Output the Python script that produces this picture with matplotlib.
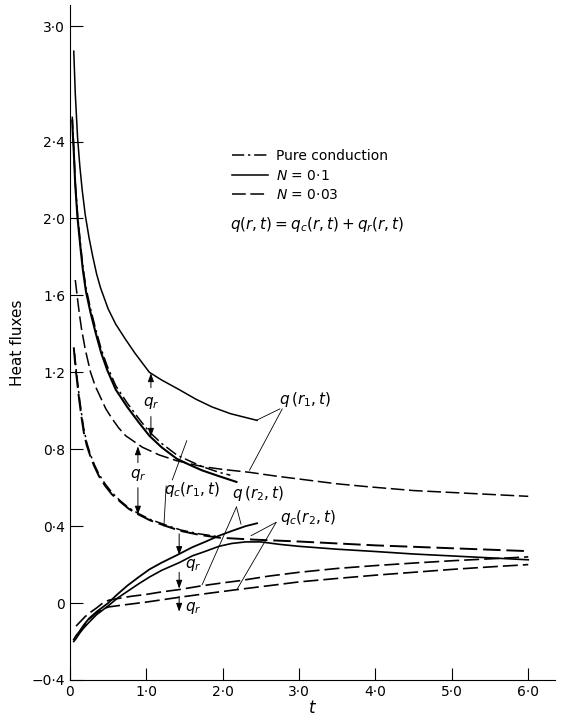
import numpy as np
import matplotlib
matplotlib.use("Agg")
import matplotlib.pyplot as plt
from matplotlib.lines import Line2D

plt.rcParams['font.family'] = ['DejaVu Sans']
plt.rcParams['mathtext.fontset'] = 'dejavusans'

# ---- data ----
# r1, N = 0.1 : total flux q(r1,t)
t_q1_n1 = [0.05, 0.07, 0.1, 0.13, 0.16, 0.2, 0.25, 0.3, 0.35, 0.4, 0.5, 0.6, 0.73,
           0.85, 1.04, 1.2, 1.43, 1.65, 1.86, 2.1, 2.45]
q_q1_n1 = [2.87, 2.65, 2.42, 2.27, 2.15, 2.02, 1.9, 1.8, 1.71, 1.64, 1.53, 1.45, 1.37,
           1.3, 1.2, 1.16, 1.11, 1.06, 1.02, 0.985, 0.95]

# r1, N = 0.1 : conductive flux qc(r1,t)
t_qc1_n1 = [0.03, 0.04, 0.05, 0.07, 0.1, 0.14, 0.17, 0.21, 0.27, 0.34, 0.41, 0.49,
            0.6, 0.75, 0.9, 1.04, 1.2, 1.4, 1.56, 1.73, 1.95, 2.18]
q_qc1_n1 = [2.51, 2.42, 2.35, 2.17, 2.0, 1.84, 1.73, 1.62, 1.51, 1.40, 1.30, 1.21,
            1.11, 1.02, 0.94, 0.87, 0.81, 0.75, 0.72, 0.69, 0.66, 0.63]

# r1, pure conduction
t_pc1 = [0.03, 0.05, 0.07, 0.1, 0.14, 0.17, 0.21, 0.27, 0.34, 0.41, 0.49, 0.6,
         0.75, 0.9, 1.04, 1.2, 1.4, 1.56, 1.73, 1.95, 2.1]
q_pc1 = [2.53, 2.37, 2.19, 2.02, 1.86, 1.75, 1.64, 1.53, 1.42, 1.32, 1.23, 1.13,
         1.04, 0.96, 0.89, 0.83, 0.77, 0.74, 0.71, 0.68, 0.665]

# r1, N = 0.03 : total flux q(r1,t)
t_q1_n3 = [0.07, 0.085, 0.1, 0.125, 0.15, 0.2, 0.27, 0.33, 0.4, 0.47, 0.55, 0.64,
           0.73, 0.84, 0.95, 1.17, 1.4, 1.73, 2.0, 2.35, 2.7, 3.0, 3.5, 3.9, 4.5,
           5.0, 5.5, 6.0]
q_q1_n3 = [1.68, 1.63, 1.58, 1.5, 1.43, 1.32, 1.2, 1.13, 1.07, 1.01, 0.96, 0.91,
           0.87, 0.84, 0.81, 0.77, 0.74, 0.71, 0.695, 0.68, 0.66, 0.645, 0.62, 0.605,
           0.585, 0.575, 0.565, 0.555]

# r1, N = 0.03 : conductive flux qc(r1,t)
t_qc1_n3 = [0.05, 0.065, 0.08, 0.1, 0.12, 0.15, 0.18, 0.22, 0.27, 0.32, 0.38, 0.46,
            0.55, 0.65, 0.77, 0.9, 1.05, 1.26, 1.45, 1.69, 1.95, 2.4, 3.0, 3.5, 4.0,
            5.0, 6.0]
q_qc1_n3 = [1.33, 1.26, 1.2, 1.13, 1.06, 0.97, 0.89, 0.82, 0.76, 0.71, 0.66, 0.61,
            0.565, 0.53, 0.49, 0.46, 0.43, 0.40, 0.375, 0.355, 0.34, 0.33, 0.32,
            0.31, 0.30, 0.285, 0.27]

# r2, pure conduction
t_pc2 = [0.06, 0.08, 0.1, 0.12, 0.15, 0.18, 0.22, 0.27, 0.32, 0.38, 0.46, 0.55,
         0.65, 0.77, 0.9, 1.05, 1.26, 1.45, 1.69, 1.95]
q_pc2 = [1.3, 1.22, 1.15, 1.08, 0.99, 0.91, 0.835, 0.77, 0.72, 0.67, 0.62, 0.575,
         0.535, 0.495, 0.465, 0.435, 0.405, 0.38, 0.36, 0.345]

# r2, N = 0.1 : q(r2,t) and qc(r2,t)
t_q2_n1 = [0.05, 0.08, 0.12, 0.18, 0.25, 0.35, 0.5, 0.62, 0.75, 0.9, 1.04, 1.2,
           1.43, 1.6, 1.78, 1.95, 2.12, 2.3, 2.45]
q_q2_n1 = [-0.19, -0.17, -0.15, -0.115, -0.08, -0.045, 0.0, 0.045, 0.09, 0.135,
           0.175, 0.21, 0.255, 0.29, 0.32, 0.35, 0.375, 0.4, 0.415]
t_qc2_n1 = [0.05, 0.08, 0.12, 0.18, 0.25, 0.35, 0.5, 0.62, 0.75, 0.9, 1.04, 1.2,
            1.43, 1.6, 1.78, 1.95, 2.12, 2.3, 2.5, 2.75, 3.0, 3.5, 4.0, 4.5, 5.0,
            5.5, 6.0]
q_qc2_n1 = [-0.2, -0.185, -0.16, -0.13, -0.1, -0.06, -0.015, 0.025, 0.06, 0.1,
            0.135, 0.17, 0.21, 0.245, 0.27, 0.295, 0.31, 0.318, 0.318, 0.305, 0.295,
            0.28, 0.268, 0.255, 0.245, 0.235, 0.225]

# r2, N = 0.03 : q(r2,t) and qc(r2,t)
t_q2_n3 = [0.08, 0.14, 0.2, 0.28, 0.35, 0.43, 0.51, 0.65, 0.8, 1.0, 1.2, 1.43, 1.73,
           2.0, 2.2, 2.6, 3.0, 3.5, 4.0, 4.5, 5.0, 5.5, 6.0]
q_q2_n3 = [-0.12, -0.095, -0.07, -0.045, -0.025, 0.0, 0.015, 0.025, 0.035, 0.045,
           0.058, 0.07, 0.09, 0.105, 0.115, 0.14, 0.16, 0.18, 0.195, 0.208, 0.22,
           0.23, 0.24]
t_qc2_n3 = [0.1, 0.18, 0.25, 0.35, 0.43, 0.51, 0.7, 1.0, 1.43, 1.8, 2.19, 2.6, 3.0,
            3.5, 4.0, 4.5, 5.0, 5.5, 6.0]
q_qc2_n3 = [-0.17, -0.12, -0.085, -0.05, -0.03, -0.02, -0.01, 0.005, 0.03, 0.05,
            0.07, 0.09, 0.11, 0.128, 0.145, 0.16, 0.175, 0.188, 0.2]

yticks = [-0.4, 0, 0.4, 0.8, 1.2, 1.6, 2.0, 2.4, 3.0]
ytick_labels = ["\u22120\u00b74", "0", "0\u00b74", "0\u00b78", "1\u00b72", "1\u00b76",
                "2\u00b70", "2\u00b74", "3\u00b70"]
xticks = [0, 1, 2, 3, 4, 5, 6]
xtick_labels = ["0", "1\u00b70", "2\u00b70", "3\u00b70", "4\u00b70", "5\u00b70", "6\u00b70"]

# ---- styles ----
LD = (0, (9, 3))              # long dash
DD = (0, (8, 2.5, 1.5, 2.5))  # dash-dot
K = "black"

fig = plt.figure(figsize=(5.64, 7.2), dpi=100)
ax = fig.add_axes([0.124, 0.0556, 0.86, 0.9374])

ax.plot(t_q1_n1, q_q1_n1, color=K, lw=1.1)
ax.plot(t_qc1_n1, q_qc1_n1, color=K, lw=1.5)
ax.plot(t_pc1, q_pc1, color=K, lw=1.1, linestyle=DD)
ax.plot(t_q1_n3, q_q1_n3, color=K, lw=1.1, linestyle=LD)
ax.plot(t_qc1_n3, q_qc1_n3, color=K, lw=1.4, linestyle=LD)
ax.plot(t_pc2, q_pc2, color=K, lw=1.1, linestyle=DD)
ax.plot(t_q2_n1, q_q2_n1, color=K, lw=1.3)
ax.plot(t_qc2_n1, q_qc2_n1, color=K, lw=1.2)
ax.plot(t_q2_n3, q_q2_n3, color=K, lw=1.2, linestyle=LD)
ax.plot(t_qc2_n3, q_qc2_n3, color=K, lw=1.2, linestyle=LD)

ax.set_xlim(0, 6.35)
ax.set_ylim(-0.4, 3.11)
ax.spines['top'].set_visible(False)
ax.spines['right'].set_visible(False)
ax.set_yticks(yticks)
ax.set_yticklabels(ytick_labels, fontsize=10)
ax.set_xticks(xticks)
ax.set_xticklabels(xtick_labels, fontsize=10)
ax.tick_params(direction='in', length=9, width=0.8)
ax.set_ylabel("Heat fluxes", fontsize=11, labelpad=5)
ax.set_xlabel("$t$", fontsize=12, labelpad=0)

# legend
handles = [Line2D([], [], color=K, lw=1.1, linestyle=DD),
           Line2D([], [], color=K, lw=1.1),
           Line2D([], [], color=K, lw=1.1, linestyle=LD)]
ax.legend(handles, ["Pure conduction", "$N$ = 0\u00b71", "$N$ = 0\u00b703"],
          loc='upper left', bbox_to_anchor=(0.308, 0.805), frameon=False,
          fontsize=10, handlelength=2.6, handletextpad=0.6, labelspacing=0.4)
ax.text(2.1, 1.97, "$q(r,t) = q_c(r,t) + q_r(r,t)$", fontsize=11, va='center')

# curve labels
lab = dict(fontsize=11, va='center')
ax.text(2.74, 1.06, "$q\\,(r_1,t)$", **lab)
ax.text(1.23, 0.59, "$q_c(r_1,t)$", **lab)
ax.text(2.12, 0.57, "$q\\,(r_2,t)$", **lab)
ax.text(2.75, 0.447, "$q_c(r_2,t)$", **lab)

pointer = dict(arrowstyle='-', lw=0.6, color=K, shrinkA=0, shrinkB=0)
for xy, xyt in [((2.44, 0.95), (2.75, 1.01)), ((2.35, 0.69), (2.78, 1.01)),
                ((1.53, 0.845), (1.34, 0.64)), ((1.23, 0.40), (1.26, 0.61)),
                ((2.24, 0.41), (2.18, 0.50)), ((1.73, 0.095), (2.18, 0.50)),
                ((2.37, 0.35), (2.70, 0.42)), ((2.19, 0.073), (2.70, 0.42))]:
    ax.annotate("", xy=xy, xytext=xyt, arrowprops=pointer)

# q_r dimension arrows
arr = dict(arrowstyle='-|>,head_length=0.5,head_width=0.18', lw=0.7, color=K,
           shrinkA=0, shrinkB=0)
for x, y0, y1 in [(1.06, 1.12, 1.195), (1.06, 0.97, 0.865),
                  (0.89, 0.73, 0.815), (0.89, 0.6, 0.46),
                  (1.43, 0.36, 0.25), (1.43, 0.16, 0.075),
                  (1.43, 0.035, -0.045)]:
    ax.annotate("", xy=(x, y1), xytext=(x, y0), arrowprops=arr)
for x, y in [(1.06, 1.04), (0.89, 0.665), (1.5, 0.2), (1.5, -0.025)]:
    ax.text(x, y, "$q_r$", fontsize=11, ha='center' if x < 1.2 else 'left',
            va='center')

fig.savefig("out.png", dpi=100)
